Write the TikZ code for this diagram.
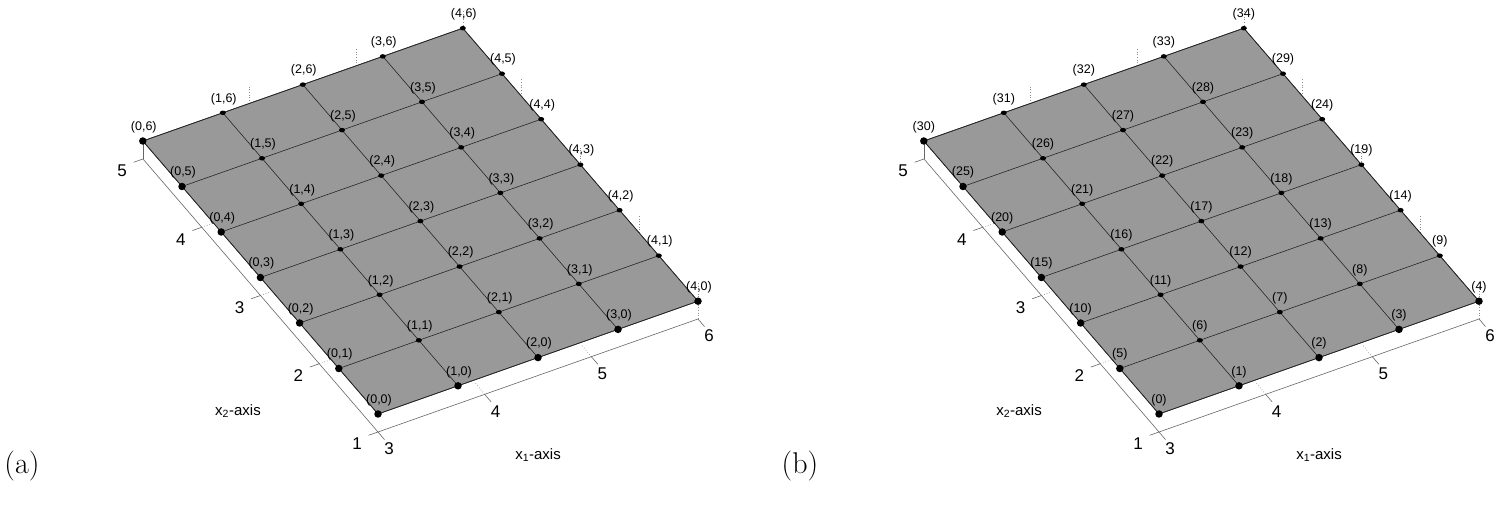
\documentclass[tikz,border=0pt]{standalone}
\usepackage{fontspec}
\setsansfont{Liberation Sans}
\usetikzlibrary{calc,shapes.geometric}
\begin{document}
\begin{tikzpicture}[x=1pt,y=-1pt,
  plane/.style={fill=black!40,draw=black!85,line width=0.7pt},
  gl/.style={draw=black!85,line width=0.6pt},
  ax/.style={draw=black!60,line width=0.6pt},
  dots/.style={draw=black!45,dotted,line width=0.7pt},
  bdot/.style={circle,fill=black,inner sep=0pt,minimum size=7.5pt},
  idot/.style={ellipse,fill=black,inner sep=0pt,minimum width=6pt,minimum height=4.5pt},
  lab/.style={font=\sffamily\fontsize{12.5}{14}\selectfont,inner sep=0pt,anchor=south},
  tick/.style={font=\sffamily\fontsize{17}{19}\selectfont,inner sep=0pt},
  axl/.style={font=\sffamily\fontsize{15}{17}\selectfont,inner sep=0pt},
  panel/.style={font=\fontsize{30}{34}\selectfont,inner sep=0pt}]
\useasboundingbox (0,0) rectangle (1500,510);
\foreach \P/\ox in {a/0,b/781}{
  \coordinate (\P O) at (\ox+378,432);
  \coordinate (\P X) at (\ox+698,319);
  \coordinate (\P Y) at (\ox+143,159);
  \foreach \t in {1,2}{
    \draw[dots] ($(\P O)!\t/3!(\P X)$) -- ++(-10,-12);
  }
  \foreach \t in {1,2,3}{
    \draw[dots] ($(\P O)!\t/4!(\P Y)$) -- ++(12,-4.2);
  }
  \foreach \t in {1.333,2.667,4}{
    \draw[dots] (\ox+378+80*\t-235,414-28.2*\t-273) -- ++(0,-18);
  }
  \foreach \t in {1.5,3,4.5}{
    \draw[dots] (\ox+698-39.2*\t,301-45.5*\t) -- ++(0,-18);
  }
  \draw[dots] (\ox+698,283) -- (\ox+698,319);
  \draw[ax] (\P Y) -- (\P O) -- (\P X);
  \draw[ax] (\ox+143,141) -- (\P Y);
  \foreach \t/\v in {0/3,1/4,2/5,3/6}{
    \draw[ax] ($(\P O)!\t/3!(\P X)$) coordinate (\P xt\t) -- ++(6.5,7.6);
    \node[tick] at ($(\P xt\t)+(11,17)$) {\v};
  }
  \foreach \t/\v in {0/1,1/2,2/3,3/4,4/5}{
    \draw[ax] ($(\P O)!\t/4!(\P Y)$) coordinate (\P yt\t) -- ++(-9.4,3.3);
    \node[tick] at ($(\P yt\t)+(-21,12)$) {\v};
  }
  \node[axl] (\P x1) at (\ox+538,455) {x\textsubscript{1}-axis};
  \node[axl] (\P x2) at (\ox+238,411) {x\textsubscript{2}-axis};
  \foreach \i in {0,...,4}{
    \foreach \j in {0,...,6}{
      \coordinate (\P\i-\j) at (\ox+378+80*\i-39.2*\j,414-28.2*\i-45.5*\j);
    }
  }
  \fill[plane] (\P0-0) -- (\P4-0) -- (\P4-6) -- (\P0-6) -- cycle;
  \foreach \i in {1,2,3}{\draw[gl] (\P\i-0) -- (\P\i-6);}
  \foreach \j in {1,...,5}{\draw[gl] (\P0-\j) -- (\P4-\j);}
  \draw[gl] (\P0-0) -- (\P4-0) -- (\P4-6) -- (\P0-6) -- cycle;
}
\node[panel] (pa) at (22,466) {(a)};
\node[panel] (pb) at (800,466) {(b)};
\foreach \i in {0,...,4}{
  \foreach \j in {0,...,6}{
    \pgfmathtruncatemacro{\n}{5*\j+\i}
    \ifnum\i=0 \def\st{bdot}\else\ifnum\j=0 \def\st{bdot}\else\def\st{idot}\fi\fi
    \node[\st] (da\i\j) at (a\i-\j) {};
    \node[\st] (db\i\j) at (b\i-\j) {};
    \node[lab] (la\i\j) at ($(a\i-\j)+(1,-8)$) {(\i,\j)};
    \node[lab] (lb\i\j) at ($(b\i-\j)+(0,-8)$) {(\n)};
  }
}
\end{tikzpicture}
\end{document}
